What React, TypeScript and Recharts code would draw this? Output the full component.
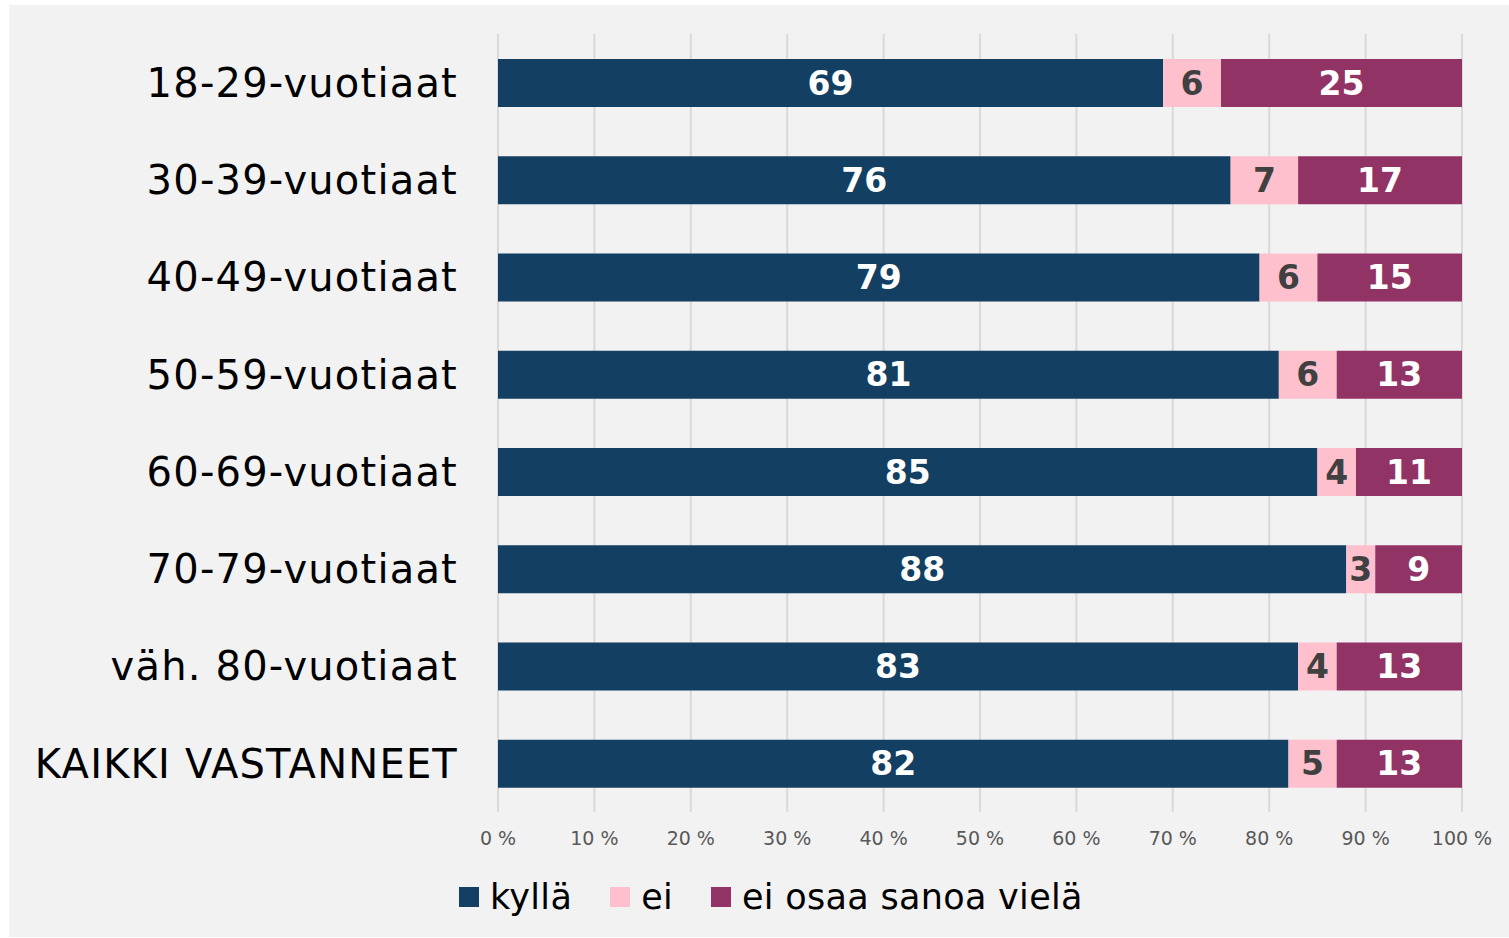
import React from 'react';
import { BarChart, Bar, XAxis, YAxis, CartesianGrid, LabelList } from 'recharts';

// age groups, top to bottom
const groups = [
    '18-29-vuotiaat',
    '30-39-vuotiaat',
    '40-49-vuotiaat',
    '50-59-vuotiaat',
    '60-69-vuotiaat',
    '70-79-vuotiaat',
    'väh. 80-vuotiaat',
    'KAIKKI VASTANNEET',
];

const kylla = [69, 76, 79, 81, 85, 88, 83, 82];
const ei = [6, 7, 6, 6, 4, 3, 4, 5];
const eiOsaa = [25, 17, 15, 13, 11, 9, 13, 13];

const xTicks = [0, 10, 20, 30, 40, 50, 60, 70, 80, 90, 100];

const series = [
    { key: 'kylla', name: 'kyllä', color: '#123F62', labelColor: '#ffffff' },
    { key: 'ei', name: 'ei', color: '#FFC0CE', labelColor: '#404040' },
    { key: 'eiOsaa', name: 'ei osaa sanoa vielä', color: '#923366', labelColor: '#ffffff' },
];

const FONT = '"DejaVu Sans", sans-serif';

export default function App() {
    const data = groups.map((g, i) => ({
        group: g,
        kylla: kylla[i],
        ei: ei[i],
        eiOsaa: eiOsaa[i],
    }));

    return (
        <div
            style={{
                position: 'absolute',
                left: 9,
                top: 5,
                width: 1500,
                height: 932,
                background: '#f2f2f2',
                fontFamily: FONT,
            }}
        >
            <BarChart
                width={1500}
                height={932}
                data={data}
                layout="vertical"
                barSize={48}
                margin={{ top: 29, right: 47, bottom: 85, left: 0 }}
            >
                <CartesianGrid horizontal={false} stroke="#d9d9d9" strokeWidth={2} />
                <XAxis
                    type="number"
                    domain={[0, 100]}
                    ticks={xTicks}
                    tickFormatter={(v) => `${v} %`}
                    axisLine={false}
                    tickLine={false}
                    tickSize={0}
                    tickMargin={20}
                    height={40}
                    tick={{ fill: '#595959', fontSize: 19, fontFamily: FONT }}
                />
                <YAxis
                    type="category"
                    dataKey="group"
                    width={489}
                    axisLine={false}
                    tickLine={false}
                    tickSize={0}
                    tickMargin={40}
                    tick={{ fill: '#000000', fontSize: 40, fontFamily: FONT, letterSpacing: 1.2 }}
                />
                {series.map((s) => (
                    <Bar key={s.key} dataKey={s.key} name={s.name} stackId="a" fill={s.color} isAnimationActive={false}>
                        <LabelList
                            dataKey={s.key}
                            position="center"
                            fill={s.labelColor}
                            fontSize={33}
                            fontWeight="bold"
                            fontFamily={FONT}
                        />
                    </Bar>
                ))}
            </BarChart>
            <div
                style={{
                    position: 'absolute',
                    left: 450,
                    top: 872,
                    display: 'flex',
                    alignItems: 'center',
                    fontSize: 35,
                    color: '#000',
                    letterSpacing: 0.3,
                    whiteSpace: 'nowrap',
                }}
            >
                {series.map((s, i) => (
                    <div key={s.key} style={{ display: 'flex', alignItems: 'center', marginRight: i < series.length - 1 ? 38 : 0 }}>
                        <span style={{ display: 'inline-block', width: 20, height: 20, background: s.color, marginRight: 11 }} />
                        <span>{s.name}</span>
                    </div>
                ))}
            </div>
        </div>
    );
}
